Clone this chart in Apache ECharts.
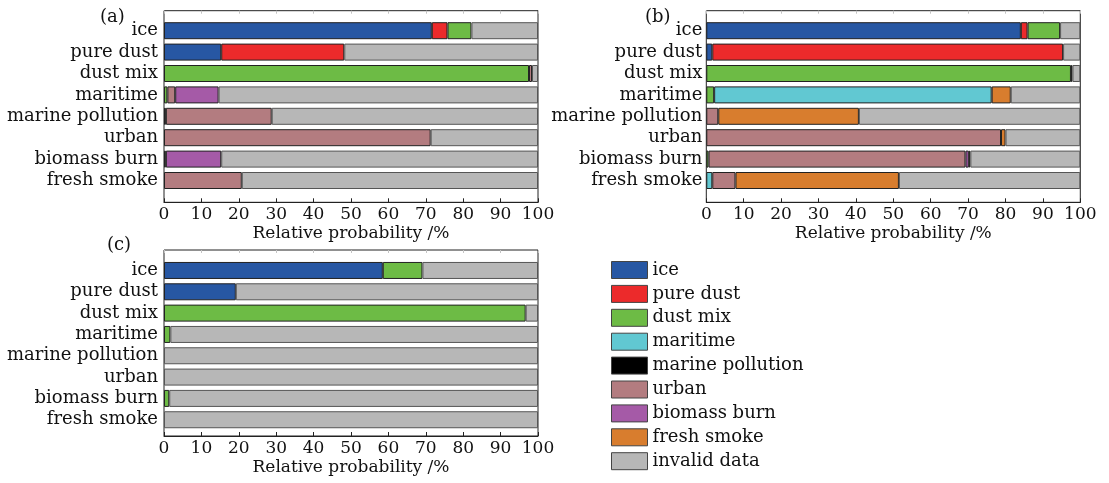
<!DOCTYPE html>
<html>
<head>
<meta charset="utf-8">
<script src="https://cdn.jsdelivr.net/npm/echarts@6/dist/echarts.min.js"></script>
<style>
html,body{margin:0;padding:0;background:#fff;}
#chart{width:1109px;height:483px;}
</style>
</head>
<body>
<div id="chart"></div>
<script>
// Categories (rows, top to bottom)
const categories = ['ice', 'pure dust', 'dust mix', 'maritime', 'marine pollution', 'urban', 'biomass burn', 'fresh smoke'];
// Aerosol / cloud types (stack order, left to right)
const seriesNames = ['ice', 'pure dust', 'dust mix', 'maritime', 'marine pollution', 'urban', 'biomass burn', 'fresh smoke', 'invalid data'];
const xTicks = [0, 10, 20, 30, 40, 50, 60, 70, 80, 90, 100];
const panelLabels = ['(a)', '(b)', '(c)'];
const xName = 'Relative probability /%';

// Panel (a): values per type, one entry per category row (%)
const aIce        = [71.6, 15.3, 0, 0, 0, 0, 0, 0];
const aPureDust   = [4.2, 32.9, 0, 0, 0, 0, 0, 0];
const aDustMix    = [6.4, 0, 97.6, 0.9, 0, 0, 0.5, 0];
const aMaritime   = [0, 0, 0, 0, 0, 0, 0, 0];
const aMarinePol  = [0, 0, 0, 0, 0.5, 0, 0, 0];
const aUrban      = [0, 0, 0.8, 2.1, 28.3, 71.3, 0, 20.8];
const aBiomass    = [0, 0, 0, 11.6, 0, 0, 14.8, 0];
const aFreshSmoke = [0, 0, 0, 0, 0, 0, 0, 0];
const aInvalid    = [17.8, 51.8, 1.6, 85.4, 71.2, 28.7, 84.7, 79.2];

// Panel (b)
const bIce        = [84.1, 1.6, 0, 0, 0, 0, 0, 0];
const bPureDust   = [1.8, 93.8, 0, 0, 0, 0, 0, 0];
const bDustMix    = [8.7, 0, 97.5, 2.1, 0, 0, 0.6, 0];
const bMaritime   = [0, 0, 0, 74.2, 0, 0, 0, 1.6];
const bMarinePol  = [0, 0, 0.4, 0, 0, 0, 0, 0];
const bUrban      = [0, 0, 0, 0, 3.2, 78.8, 68.7, 6.2];
const bBiomass    = [0, 0, 0, 0, 0, 0, 0.9, 0];
const bFreshSmoke = [0, 0, 0, 5.1, 37.6, 1.2, 0.4, 43.7];
const bInvalid    = [5.4, 4.6, 2.1, 18.6, 59.2, 20.0, 29.4, 48.5];

// Panel (c)
const cIce        = [58.5, 19.2, 0, 0, 0, 0, 0, 0];
const cPureDust   = [0, 0, 0, 0, 0, 0, 0, 0];
const cDustMix    = [10.6, 0, 96.7, 1.7, 0, 0, 1.4, 0];
const cMaritime   = [0, 0, 0, 0, 0, 0, 0, 0];
const cMarinePol  = [0, 0, 0, 0, 0, 0, 0, 0];
const cUrban      = [0, 0, 0, 0, 0, 0, 0, 0];
const cBiomass    = [0, 0, 0, 0, 0, 0, 0, 0];
const cFreshSmoke = [0, 0, 0, 0, 0, 0, 0, 0];
const cInvalid    = [30.9, 80.8, 3.3, 98.3, 100, 100, 98.6, 100];

const panels = [
  [aIce, aPureDust, aDustMix, aMaritime, aMarinePol, aUrban, aBiomass, aFreshSmoke, aInvalid],
  [bIce, bPureDust, bDustMix, bMaritime, bMarinePol, bUrban, bBiomass, bFreshSmoke, bInvalid],
  [cIce, cPureDust, cDustMix, cMaritime, cMarinePol, cUrban, cBiomass, cFreshSmoke, cInvalid]
];

const colors = ['#2757a3', '#ec2a2b', '#6dbb45', '#61c8d2', '#000000', '#b37c80', '#a55aa7', '#d87d2e', '#b7b7b7'];
const FONT = 'DejaVu Serif';
const TXT = '#111';

// layout: frame box and inner bar band box per panel
const layout = [
  {frame: {left: 164, top: 10.7, width: 374, height: 191.6}, bars: {top: 20, height: 171.2}, labMargin: 6, title: {left: 100, top: 8}},
  {frame: {left: 706.3, top: 10.7, width: 374, height: 191.6}, bars: {top: 20, height: 171.2}, labMargin: 4, title: {left: 645, top: 8}},
  {frame: {left: 164, top: 250, width: 374, height: 186}, bars: {top: 259.8, height: 170.6}, labMargin: 6, title: {left: 107, top: 236}}
];

const grid = [], xAxis = [], yAxis = [], series = [], title = [];
layout.forEach((L, k) => {
  const f = L.frame;
  grid.push({left: f.left, top: f.top, width: f.width, height: f.height, show: true, borderColor: '#222', borderWidth: 1, backgroundColor: 'transparent', containLabel: false});
  grid.push({left: f.left, top: L.bars.top, width: f.width, height: L.bars.height, containLabel: false});
  // frame bottom axis (ticks, labels, name)
  xAxis.push({
    gridIndex: 2 * k, type: 'value', position: 'bottom', min: xTicks[0], max: xTicks[xTicks.length - 1], interval: xTicks[1] - xTicks[0],
    axisLine: {show: true, lineStyle: {color: '#222', width: 1}},
    axisTick: {show: true, inside: true, length: 4, lineStyle: {color: '#222'}},
    axisLabel: {show: true, margin: 4, fontFamily: FONT, fontSize: 17, color: TXT},
    splitLine: {show: false},
    name: xName, nameLocation: 'middle', nameGap: 23,
    nameTextStyle: {fontFamily: FONT, fontSize: 17, color: TXT}
  });
  // frame top axis (faint ticks)
  xAxis.push({
    gridIndex: 2 * k, type: 'value', position: 'top', min: xTicks[0], max: xTicks[xTicks.length - 1], interval: xTicks[1] - xTicks[0],
    axisLine: {show: false},
    axisTick: {show: true, inside: true, length: 3, lineStyle: {color: '#c4c4c4'}},
    axisLabel: {show: false}, splitLine: {show: false}
  });
  // bar x axis (hidden)
  xAxis.push({
    gridIndex: 2 * k + 1, type: 'value', min: xTicks[0], max: xTicks[xTicks.length - 1], interval: xTicks[1] - xTicks[0],
    show: false
  });
  yAxis.push({
    gridIndex: 2 * k, type: 'value', min: 0, max: 1,
    axisLine: {show: false}, axisTick: {show: false}, axisLabel: {show: false}, splitLine: {show: false}
  });
  yAxis.push({
    gridIndex: 2 * k + 1, type: 'category', inverse: true, data: categories,
    axisLine: {show: false}, axisTick: {show: false},
    axisLabel: {show: true, interval: 0, hideOverlap: false, margin: L.labMargin, fontFamily: FONT, fontSize: 18, color: TXT},
    splitLine: {show: false}
  });
  title.push({text: panelLabels[k], left: L.title.left, top: L.title.top, padding: 0,
    textStyle: {fontFamily: FONT, fontSize: 18, fontWeight: 'normal', color: TXT}});
  panels[k].forEach((vals, i) => {
    series.push({
      name: seriesNames[i], type: 'bar', stack: 'panel' + k,
      xAxisIndex: 3 * k + 2, yAxisIndex: 2 * k + 1,
      barWidth: 17,
      data: vals.map(v => (v === 0 ? '-' : v)),
      itemStyle: {color: colors[i], borderColor: i === 8 ? '#555' : '#222', borderWidth: 1},
      emphasis: {disabled: true},
      animation: false
    });
  });
});

const chart = echarts.init(document.getElementById('chart'), null, {renderer: 'canvas'});
chart.setOption({
  backgroundColor: '#ffffff',
  animation: false,
  title: title,
  grid: grid,
  xAxis: xAxis,
  yAxis: yAxis,
  legend: {
    data: seriesNames, orient: 'vertical', left: 611, top: 261, padding: 0,
    icon: 'rect', itemWidth: 36, itemHeight: 17, itemGap: 5.9,
    itemStyle: {borderColor: '#444', borderWidth: 1},
    textStyle: {fontFamily: FONT, fontSize: 18, color: TXT, lineHeight: 17}
  },
  tooltip: {show: false},
  series: series
});
</script>
</body>
</html>
